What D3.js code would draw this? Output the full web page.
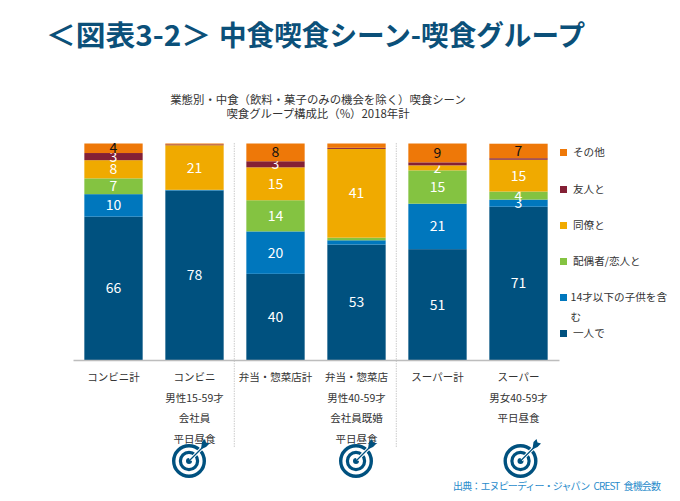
<!DOCTYPE html>
<html>
<head>
<meta charset="utf-8">
<script src="https://cdn.jsdelivr.net/npm/d3@7"></script>
<style>
  html, body { margin: 0; padding: 0; background: #fff; }
  text { font-family: "Noto Sans CJK JP", "Noto Sans", sans-serif; }
</style>
</head>
<body>
<svg id="chart" width="680" height="501"></svg>
<script>
const categories = [
  ['コンビニ計'],
  ['コンビニ', '男性15-59才', '会社員', '平日昼食'],
  ['弁当・惣菜店計'],
  ['弁当・惣菜店', '男性40-59才', '会社員既婚', '平日昼食'],
  ['スーパー計'],
  ['スーパー', '男女40-59才', '平日昼食']
];

const seriesNames = ['一人で', '14才以下の子供を含む', '配偶者/恋人と', '同僚と', '友人と', 'その他'];
const seriesColors = ['#00517f', '#0077bd', '#84c341', '#f0aa00', '#842035', '#ee7808'];

const alone = [66.2, 78.3, 39.8, 53.3, 51.2, 70.8];
const withKids = [10.4, 0.3, 19.6, 2.0, 21.0, 3.3];
const partner = [7.3, 0, 14.4, 1.2, 15.4, 3.7];
const coworkers = [8.4, 20.6, 15.2, 41.0, 2.3, 14.7];
const friends = [3.3, 0.4, 2.8, 0.5, 1.4, 0.7];
const others = [4.4, 0.4, 8.2, 2.0, 8.7, 6.7];

const targetBars = [1, 3, 5];
const targetShift = [-5.5, -0.5, 2];
const separators = [2, 4];

const svg = d3.select('#chart');

const x = d3.scaleBand().domain(d3.range(categories.length)).range([73, 559]).paddingInner(0.28).paddingOuter(0.14);
const y = d3.scaleLinear().domain([0, 100]).range([360, 143.5]);

const rows = categories.map((c, i) => ({
  i, s0: alone[i], s1: withKids[i], s2: partner[i], s3: coworkers[i], s4: friends[i], s5: others[i]
}));
const stacked = d3.stack().keys(['s0', 's1', 's2', 's3', 's4', 's5'])(rows);

// title
svg.append('text').attr('x', 46).attr('y', 46)
  .attr('font-size', 28).attr('font-weight', 700).attr('fill', '#0b5079')
  .attr('textLength', 165).attr('lengthAdjust', 'spacingAndGlyphs')
  .text('＜図表3-2＞');
svg.append('text').attr('x', 219).attr('y', 46)
  .attr('font-size', 28).attr('font-weight', 700).attr('fill', '#0b5079')
  .attr('textLength', 366).attr('lengthAdjust', 'spacingAndGlyphs')
  .text('中食喫食シーン-喫食グループ');

svg.append('text').attr('x', 318).attr('y', 104).attr('text-anchor', 'middle')
  .attr('font-size', 11.4).attr('fill', '#333').text('業態別・中食（飲料・菓子のみの機会を除く）喫食シーン');
svg.append('text').attr('x', 318).attr('y', 118).attr('text-anchor', 'middle')
  .attr('font-size', 11.4).attr('fill', '#333').text('喫食グループ構成比（%）2018年計');

// dotted separators between store types
svg.selectAll('.sep').data(separators).enter().append('line')
  .attr('class', 'sep')
  .attr('x1', d => x(d) - 12).attr('x2', d => x(d) - 12)
  .attr('y1', 143).attr('y2', 447)
  .attr('stroke', '#d4d4d4').attr('stroke-width', 1.2).attr('stroke-dasharray', '1.5 1');

// bars
const layers = svg.selectAll('.layer').data(stacked).enter().append('g')
  .attr('class', 'layer').attr('fill', (d, i) => seriesColors[i]);

layers.selectAll('rect').data(d => d).enter().append('rect')
  .attr('x', d => x(d.data.i))
  .attr('width', x.bandwidth())
  .attr('y', d => y(d[1]))
  .attr('height', d => y(d[0]) - y(d[1]));

// value labels, the thin slices have none
layers.each(function(s, si) {
  d3.select(this).selectAll('text').data(s.filter(d => d[1] - d[0] >= 2.2)).enter().append('text')
    .attr('x', d => x(d.data.i) + x.bandwidth() / 2)
    .attr('y', d => y((d[0] + d[1]) / 2))
    .attr('dy', '0.36em')
    .attr('text-anchor', 'middle')
    .attr('font-size', 14)
    .attr('font-family', '"Open Sans", sans-serif')
    .attr('fill', si === 5 ? '#111' : '#fff')
    .text(d => d3.format('.0f')(d[1] - d[0]));
});

// x axis
const axis = svg.append('g').attr('transform', 'translate(0,360)')
  .call(d3.axisBottom(x).tickSize(0).tickFormat(''));
axis.select('.domain').attr('stroke', '#bdbdbd').attr('stroke-width', 1.5);
axis.selectAll('.tick text').remove();
axis.selectAll('.tick').append('text')
  .attr('fill', '#333').attr('font-size', 10.5).attr('text-anchor', 'middle')
  .selectAll('tspan').data(d => categories[d]).enter().append('tspan')
  .attr('x', 0).attr('y', (d, i) => 21 + i * 20.5).text(d => d);

// legend, top entry first
const legendY = [152, 189, 225, 261, 297, 333];
const legend = svg.selectAll('.legend').data(d3.range(5, -1, -1)).enter().append('g').attr('class', 'legend');
legend.append('rect')
  .attr('x', 560).attr('y', (d, i) => legendY[i] - 3)
  .attr('width', 7).attr('height', 7)
  .attr('fill', d => seriesColors[d]);
legend.append('text')
  .attr('fill', '#333').attr('font-size', 10.6)
  .attr('x', d => d === 1 ? 570.5 : 573).attr('y', (d, i) => legendY[i] + 3.5)
  .text(d => d === 1 ? '14才以下の子供を含' : seriesNames[d]);
svg.append('text').attr('x', 570.5).attr('y', 320.5).attr('fill', '#333').attr('font-size', 10.6).text('む');

// target icons under the focus bars
const icon = svg.selectAll('.target').data(targetBars).enter().append('g')
  .attr('class', 'target')
  .attr('transform', (d, i) => `translate(${x(d) + x.bandwidth() / 2 + targetShift[i]},461)`);
icon.append('circle').attr('r', 15.3).attr('fill', 'none').attr('stroke', '#00517f').attr('stroke-width', 3.4);
icon.append('circle').attr('r', 8.6).attr('fill', 'none').attr('stroke', '#00517f').attr('stroke-width', 3.2);
icon.append('circle').attr('r', 3).attr('fill', '#00517f');
icon.append('line').attr('x1', 1).attr('y1', -1).attr('x2', 15).attr('y2', -15).attr('stroke', '#fff').attr('stroke-width', 3.2);
icon.append('line').attr('x1', 0).attr('y1', 0).attr('x2', 15).attr('y2', -15).attr('stroke', '#00517f').attr('stroke-width', 1.3);
icon.append('path').attr('fill', '#00517f').attr('d', 'M12,-12 L13,-19 L16,-22 L17,-18.5 L20.5,-17.5 L17,-14 L10.5,-11 Z');

svg.append('text').attr('x', 453).attr('y', 490)
  .attr('font-size', 10).attr('fill', '#2a8ccb')
  .attr('textLength', 208).attr('lengthAdjust', 'spacing')
  .text('出典：エヌピーディー・ジャパン\u2002CREST\u2002食機会数');
</script>
</body>
</html>
